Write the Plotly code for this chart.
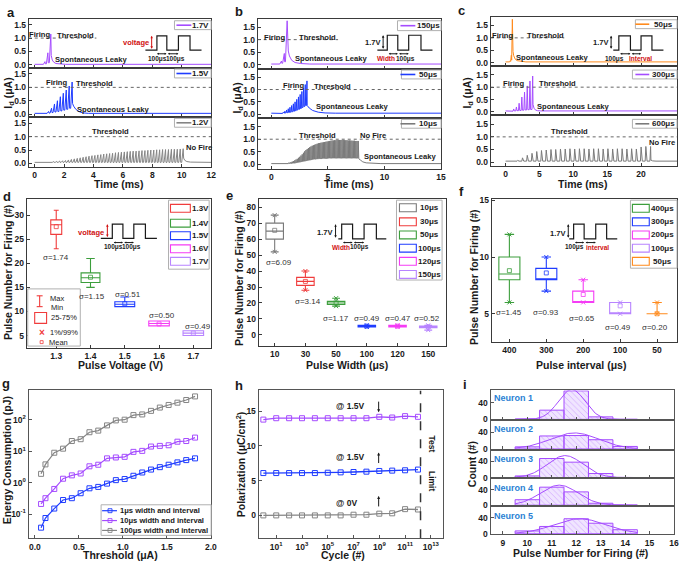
import numpy as np
import plotly.graph_objects as go

W, H = 685, 564
FONT = "Liberation Sans, Arial, Helvetica, sans-serif"

PURPLE = "#a54cff"
BLUE = "#1f3cff"
GRAY = "#858585"
ORANGE = "#ff8a1c"
RED = "#f03c3c"
GREEN = "#3c9e3c"
MAGENTA = "#f53cf5"
LAVENDER = "#b884ff"
DGRAY = "#7a7a7a"
NEURON_BLUE = "#2a7fd4"
INK = "#1a1a1a"
FRAME = "#3a3a3a"

# ======================= DATA =======================
# (a) pulse voltage series, 100us width / 100us interval (ms)
a_period, a_width = 0.2, 0.1
a17_start = 0.6
a17_peaks = [0.12, 0.45, 1.15]
a17_troughs = [0.02, 0.04, 0.08]
a17_decay_dt = [0.03, 0.1, 0.2, 0.35, 0.6, 1.0]
a17_decay_i = [0.35, 0.18, 0.1, 0.05, 0.03, 0.02]

a15_start = 0.85
a15_peaks = [0.1, 0.22, 0.38, 0.5, 0.65, 0.78, 0.9, 1.05, 1.2]
a15_troughs = [0.03, 0.04, 0.06, 0.08, 0.1, 0.12, 0.15, 0.18, 0.22]
a15_decay_dt = [0.03, 0.1, 0.25, 0.45, 0.7, 1.1]
a15_decay_i = [0.4, 0.3, 0.18, 0.1, 0.05, 0.03]

a12_start = 0.2
a12_peaks = [0.04, 0.04, 0.05, 0.05, 0.06, 0.07, 0.08, 0.09, 0.10, 0.11,
             0.13, 0.15, 0.17, 0.19, 0.21, 0.23, 0.25, 0.27, 0.29, 0.30,
             0.32, 0.33, 0.35, 0.36, 0.37, 0.38, 0.40, 0.41, 0.42, 0.43,
             0.44, 0.45, 0.46, 0.46, 0.47, 0.48, 0.48, 0.49, 0.50, 0.50,
             0.51, 0.51, 0.52, 0.52, 0.52, 0.53, 0.53, 0.53, 0.54, 0.55]
a12_trough = 0.04
a12_decay_dt = [0.03, 0.1, 0.25, 0.5, 0.9]
a12_decay_i = [0.2, 0.12, 0.07, 0.05, 0.04]

# (b) pulse width series, 1.7V, 100us interval
b150_start, b150_period, b150_width = 0.75, 0.25, 0.15
b150_peaks = [0.15, 0.45, 1.75]
b150_troughs = [0.03, 0.06, 0.12]
b150_decay_dt = [0.03, 0.1, 0.2, 0.4, 0.7, 1.2, 2.0]
b150_decay_i = [0.9, 0.55, 0.35, 0.18, 0.09, 0.05, 0.03]

b50_start, b50_period, b50_width = 1.0, 0.15, 0.05
b50_peaks = [0.08, 0.12, 0.17, 0.22, 0.28, 0.35, 0.42, 0.5, 0.6, 0.7,
             0.8, 0.92, 1.05, 1.2, 1.35]
b50_troughs = [0.03, 0.04, 0.05, 0.06, 0.07, 0.08, 0.1, 0.12, 0.14, 0.17,
               0.2, 0.23, 0.27, 0.31, 0.35]
b50_decay_dt = [0.02, 0.2, 0.5, 1.0, 1.6, 2.5]
b50_decay_i = [0.35, 0.25, 0.15, 0.08, 0.05, 0.04]

b10_start, b10_period, b10_width = 1.4, 0.11, 0.01
b10_peaks = [0.05, 0.06, 0.07, 0.09, 0.11, 0.13, 0.16, 0.19, 0.22, 0.26,
             0.30, 0.35, 0.40, 0.46, 0.52, 0.57, 0.61, 0.65, 0.68, 0.71,
             0.74, 0.76, 0.78, 0.80, 0.82, 0.84, 0.85, 0.86, 0.87, 0.88,
             0.89, 0.90, 0.91, 0.92, 0.93, 0.94, 0.95, 0.95, 0.96, 0.96,
             0.97, 0.97, 0.97, 0.97, 0.97, 0.97, 0.96, 0.96, 0.96, 0.95,
             0.95, 0.95, 0.94, 0.94, 0.94, 0.93, 0.93, 0.93]
b10_troughs = [0.03, 0.03, 0.03, 0.04, 0.04, 0.05, 0.05, 0.06, 0.07, 0.08,
               0.09, 0.10, 0.11, 0.12, 0.13, 0.14, 0.15, 0.16, 0.17, 0.18,
               0.19, 0.20, 0.21, 0.21, 0.22, 0.22, 0.23, 0.23, 0.23, 0.24,
               0.24, 0.24, 0.24, 0.24, 0.25, 0.25, 0.25, 0.25, 0.25, 0.25,
               0.25, 0.25, 0.25, 0.25, 0.25, 0.25, 0.25, 0.25, 0.25, 0.25,
               0.25, 0.25, 0.25, 0.25, 0.25, 0.25, 0.25, 0.25]
b10_decay_dt = [0.05, 0.2, 0.4, 0.7, 1.2, 2.0]
b10_decay_i = [0.22, 0.17, 0.1, 0.06, 0.04, 0.03]

# (c) pulse interval series, 1.7V, 100us width
c50_start, c50_period, c50_width = 0.6, 0.15, 0.1
c50_peaks = [0.08, 0.3, 1.75]
c50_troughs = [0.03, 0.05, 0.1]
c50_decay_dt = [0.03, 0.1, 0.2, 0.4, 0.7, 1.2, 2.0]
c50_decay_i = [0.8, 0.45, 0.28, 0.15, 0.08, 0.05, 0.03]

c300_start, c300_period, c300_width = 1.1, 0.4, 0.1
c300_peaks = [0.12, 0.2, 0.35, 0.6, 0.8, 1.05, 1.25, 1.45]
c300_troughs = [0.03, 0.04, 0.05, 0.06, 0.07, 0.08, 0.09, 0.1]
c300_decay_dt = [0.05, 0.2, 0.4, 0.7, 1.2]
c300_decay_i = [0.3, 0.15, 0.08, 0.05, 0.04]

c600_start, c600_period, c600_width = 1.7, 0.7, 0.1
c600_peaks = [0.07, 0.17, 0.27, 0.35, 0.42, 0.46, 0.48, 0.50, 0.50, 0.52,
              0.52, 0.53, 0.52, 0.53, 0.53, 0.52, 0.53, 0.53, 0.52, 0.53,
              0.52, 0.53, 0.53, 0.52, 0.53, 0.52, 0.60, 0.62, 0.62]
c600_trough = 0.04
c600_decay_dt = [0.05, 0.3, 0.8]
c600_decay_i = [0.08, 0.05, 0.04]

# (d) pulse number vs pulse voltage
d_voltage = [1.3, 1.4, 1.5, 1.6, 1.7]
d_min = [23, 15, 11, 7, 5]
d_q1 = [26, 16, 11, 7, 5]
d_median = [28, 17, 11.5, 7.5, 5.5]
d_q3 = [29, 18, 12, 8, 6]
d_max = [31, 21, 13, 8, 6]
d_mean = [27.6, 17.1, 11.6, 7.4, 5.5]
d_sigma = ["1.74", "1.15", "0.51", "0.50", "0.49"]
d_labels = ["1.3V", "1.4V", "1.5V", "1.6V", "1.7V"]

# (e) pulse number vs pulse width
e_width = ["10", "30", "50", "100", "120", "150"]
e_min = [52, 28, 18, 5, 5, 3]
e_q1 = [60, 31, 19, 5, 5, 4.5]
e_median = [65, 33.5, 20, 5.5, 5.5, 5]
e_q3 = [70, 36, 21, 6, 6, 5.5]
e_max = [75, 40, 23, 6, 6, 6]
e_mean = [65.5, 33.5, 20, 5.5, 5.5, 5]
e_sigma = ["6.09", "3.14", "1.17", "0.49", "0.47", "0.52"]

# (f) pulse number vs pulse interval
f_interval = ["400", "300", "200", "100", "50"]
f_min = [6, 7, 6, 5, 5]
f_q1 = [8, 8, 6, 5, 5]
f_median = [8.5, 8, 6, 5, 5]
f_q3 = [10, 9, 7, 6, 5]
f_max = [12, 10, 8, 6, 6]
f_mean = [8.8, 8.6, 6.7, 5.7, 5.0]
f_sigma = ["1.45", "0.93", "0.65", "0.49", "0.20"]

# (g) energy consumption vs threshold
g_threshold = [0.07, 0.12, 0.22, 0.32, 0.42, 0.52, 0.62, 0.72, 0.82, 0.92,
               1.02, 1.12, 1.22, 1.32, 1.42, 1.52, 1.62, 1.72, 1.82]
g_1us = [0.037, 0.075, 0.15, 0.28, 0.32, 0.46, 0.66, 0.73, 0.93, 1.2,
         1.3, 1.65, 2.1, 2.6, 3.1, 3.7, 4.4, 5.2, 5.9]
g_10us = [0.21, 0.32, 0.63, 1.33, 1.7, 1.95, 3.3, 3.7, 5.9, 6.3,
          6.6, 9.5, 10.2, 14, 14.7, 15.4, 20, 21, 27]
g_100us = [1.9, 3.8, 8.9, 12, 21, 24, 40, 45, 66, 95,
           100, 140, 147, 191, 243, 294, 348, 422, 550]

# (h) polarization vs cycles
h_cycle = [1e0, 1e1, 1e2, 1e3, 1e4, 1e5, 1e6, 1e7, 1e8, 1e9, 1e10, 1e11, 1e12]
h_top = [13.8, 14.0, 14.0, 14.0, 14.0, 14.0, 14.0, 14.0, 14.0, 14.2, 14.1, 14.3, 14.2]
h_mid = [6.1, 6.1, 6.1, 6.1, 6.1, 6.15, 6.2, 6.25, 6.3, 6.4, 6.45, 6.5, 6.6]
h_zero = [0, 0, 0, 0, 0, 0, 0, 0.1, 0.1, 0.25, 0.3, 0.9, 0.85]
h_test_limit = 10 ** 12.2

# (i) histograms of pulse number for firing
i_bins = [10, 11, 12, 13, 14]
i_counts = [
    [1, 22, 68, 6, 0],
    [5, 31, 32, 22, 6],
    [4, 47, 38, 10, 0],
    [14, 46, 34, 5, 0],
    [7, 18, 37, 26, 10],
]

# ======================= HELPERS =======================
fig = go.Figure()
layout = dict(width=W, height=H, margin=dict(l=0, r=0, t=0, b=0),
              paper_bgcolor="white", plot_bgcolor="white", showlegend=False,
              hovermode=False, font=dict(family=FONT, color=INK))
shapes, annotations = [], []
n_axes = [0]


def add_axes(xpx, ypx, xr, yr, xtype="linear", ytype="linear", xlabels=True,
             xtv=None, xtt=None, ytv=None, ytt=None, frame=FRAME, lw=1):
    n_axes[0] += 1
    k = n_axes[0]
    s = "" if k == 1 else str(k)
    base = dict(showline=True, mirror=True, linecolor=frame, linewidth=lw,
                ticks="inside", ticklen=3, tickcolor=frame, showgrid=False,
                zeroline=False, fixedrange=True,
                tickfont=dict(family=FONT, size=8.5, color=INK, weight="bold"))
    xa = dict(base, domain=[xpx[0] / W, xpx[1] / W], range=xr, type=xtype,
              anchor="y" + s, showticklabels=xlabels)
    ya = dict(base, domain=[1 - ypx[1] / H, 1 - ypx[0] / H], range=yr,
              type=ytype, anchor="x" + s)
    if xtv is not None:
        xa.update(tickmode="array", tickvals=xtv)
        if xtt is not None:
            xa["ticktext"] = xtt
    if ytv is not None:
        ya.update(tickmode="array", tickvals=ytv)
        if ytt is not None:
            ya["ticktext"] = ytt
    layout["xaxis" + s] = xa
    layout["yaxis" + s] = ya
    return "x" + s, "y" + s


def spike_wave(start, period, width, peaks, troughs, base, decay_dt, decay_i, t_end):
    t, y = [0.0], [base]
    n = len(peaks)
    for k in range(n):
        s = start + k * period
        t += [s, s + width]
        y += [troughs[k], peaks[k]]
        if k < n - 1:
            t.append(s + width + 0.3 * (period - width))
            y.append(troughs[k + 1])
    end = start + (n - 1) * period + width
    t += [end + d for d in decay_dt]
    y += list(decay_i)
    t.append(t_end)
    y.append(decay_i[-1])
    return t, y


def text_px(x, y, s, size=8.5, color=INK, anchor="center", angle=0, bold=True):
    annotations.append(dict(x=x / W, y=1 - y / H, xref="paper", yref="paper", text=s,
                            showarrow=False, xanchor=anchor, yanchor="middle",
                            textangle=angle, borderpad=0,
                            font=dict(family=FONT, size=size, color=color,
                                      weight="bold" if bold else "normal")))


def text_data(xa, ya, x, y, s, size=7.6, color=INK, bold=True, anchor="center"):
    annotations.append(dict(x=x, y=y, xref=xa, yref=ya, text=s, showarrow=False,
                            xanchor=anchor, yanchor="middle", borderpad=0,
                            font=dict(family=FONT, size=size, color=color,
                                      weight="bold" if bold else "normal")))


def arrow_px(x0, y0, x1, y1, color=INK, side="end+start", size=0.5):
    annotations.append(dict(x=x1 / W, y=1 - y1 / H, xref="paper", yref="paper",
                            ax=x0 - x1, ay=y0 - y1, axref="pixel", ayref="pixel",
                            text="", showarrow=True, arrowhead=2, arrowsize=size,
                            arrowwidth=1, arrowcolor=color, arrowside=side))


def rect_px(x0, y0, x1, y1, color, width=1, fill="rgba(0,0,0,0)"):
    shapes.append(dict(type="rect", xref="paper", yref="paper", x0=x0 / W, x1=x1 / W,
                       y0=1 - y1 / H, y1=1 - y0 / H, line=dict(color=color, width=width),
                       fillcolor=fill, layer="above"))


def line_px(x0, y0, x1, y1, color, width=1):
    shapes.append(dict(type="line", xref="paper", yref="paper", x0=x0 / W, x1=x1 / W,
                       y0=1 - y0 / H, y1=1 - y1 / H, line=dict(color=color, width=width),
                       layer="above"))


def path_px(points, color=INK, width=1.2):
    d = "M " + " L ".join(f"{x / W:.5f},{1 - y / H:.5f}" for x, y in points)
    shapes.append(dict(type="path", xref="paper", yref="paper", path=d,
                       line=dict(color=color, width=width), layer="above"))


def pulse_inset(xs, ylow, yhigh):
    pts = [(xs[0], ylow)]
    levels = [ylow, yhigh, ylow, yhigh, ylow]
    for i in range(1, len(xs) - 1):
        pts.append((xs[i], levels[i - 1]))
        pts.append((xs[i], levels[i]))
    pts.append((xs[-1], ylow))
    path_px(pts)


def legend_line(x0, y0, x1, y1, color, label, lx0, lx1, tx):
    yc = (y0 + y1) / 2
    rect_px(x0, y0, x1, y1, "#b0b0b0", 1, "white")
    line_px(lx0, yc, lx1, yc, color, 1.6)
    text_px(tx, yc, label, size=8)


YT = [0, 0.5, 1.0, 1.5]
YTT = ["0.0", "0.5", "1.0", "1.5"]

# ======================= PANELS a-c =======================
panel_specs = [
    dict(xpx=(29, 213), ys=[(15, 65), (65, 115), (115, 165)], xr=[-0.4, 12], yr=[-0.12, 1.72],
         xt=[0, 2, 4, 6, 8, 10, 12], t_end=12,
         waves=[(a17_start, a_period, a_width, a17_peaks, a17_troughs, 0.02, a17_decay_dt, a17_decay_i),
                (a15_start, a_period, a_width, a15_peaks, a15_troughs, 0.03, a15_decay_dt, a15_decay_i),
                (a12_start, a_period, a_width, a12_peaks, [a12_trough] * len(a12_peaks), 0.04, a12_decay_dt, a12_decay_i)],
         colors=[PURPLE, BLUE, GRAY], labels=["1.7V", "1.5V", "1.2V"],
         texts=[[(0.35, 1.12, "Firing"), (2.8, 1.1, "Threshold"), (3.85, 0.19, "Spontaneous Leaky")],
                [(1.5, 1.17, "Firing"), (4.1, 1.15, "Threshold"), (5.35, 0.19, "Spontaneous Leaky")],
                [(5.15, 1.2, "Threshold"), (11.15, 0.61, "No Fire")]],
         stop=4.2,
         leg=[(176, 17, 213, 26), (176, 66, 213, 75), (176, 116, 213, 125)], legl=(178, 193, 202)),
    dict(xpx=(260, 445), ys=[(15, 66), (66, 116), (116, 167)], xr=[-1.2, 15], yr=[-0.17, 1.83],
         xt=[0, 5, 10, 15], t_end=15,
         waves=[(b150_start, b150_period, b150_width, b150_peaks, b150_troughs, 0.03, b150_decay_dt, b150_decay_i),
                (b50_start, b50_period, b50_width, b50_peaks, b50_troughs, 0.04, b50_decay_dt, b50_decay_i),
                (b10_start, b10_period, b10_width, b10_peaks, b10_troughs, 0.03, b10_decay_dt, b10_decay_i)],
         colors=[PURPLE, BLUE, "#7a7a7a"], labels=["150μs", "50μs", "10μs"],
         texts=[[(0.3, 1.1, "Firing"), (4.1, 1.1, "Threshold"), (5.3, 0.26, "Spontaneous Leaky")],
                [(1.95, 1.18, "Firing"), (5.4, 1.13, "Threshold"), (7.2, 0.3, "Spontaneous Leaky")],
                [(4.1, 1.15, "Threshold"), (9.0, 1.15, "No Fire"), (11.4, 0.32, "Spontaneous Leaky")]],
         stop=5.9,
         leg=[(401, 17, 445, 27), (405, 67, 445, 76), (405, 117, 445, 126)], legl=(404, 419, 432)),
    dict(xpx=(495, 683), ys=[(13, 63), (63, 113), (113, 164)], xr=[-2.2, 25.3], yr=[-0.14, 1.85],
         xt=[0, 5, 10, 15, 20], t_end=25.3,
         waves=[(c50_start, c50_period, c50_width, c50_peaks, c50_troughs, 0.03, c50_decay_dt, c50_decay_i),
                (c300_start, c300_period, c300_width, c300_peaks, c300_troughs, 0.04, c300_decay_dt, c300_decay_i),
                (c600_start, c600_period, c600_width, c600_peaks, [c600_trough] * len(c600_peaks), 0.04, c600_decay_dt, c600_decay_i)],
         colors=[ORANGE, PURPLE, "#7a7a7a"], labels=["50μs", "300μs", "600μs"],
         texts=[[(-0.47, 1.11, "Firing"), (5.9, 1.11, "Threshold"), (6.97, 0.2, "Spontaneous Leaky")],
                [(1.15, 1.14, "Firing"), (7.6, 1.14, "Threshold"), (10.0, 0.22, "Spontaneous Leaky")],
                [(9.4, 1.21, "Threshold"), (23.1, 0.78, "No Fire")]],
         stop=8.66,
         leg=[(641, 16, 683, 25), (638, 67, 683, 76), (638, 117, 683, 126)], legl=(641, 655, 669)),
]

for spec in panel_specs:
    for j in range(3):
        xa, ya = add_axes(spec["xpx"], spec["ys"][j], spec["xr"], spec["yr"],
                          xlabels=(j == 2), xtv=spec["xt"], ytv=YT, ytt=YTT)
        st, per, wid, pk, tr, base, ddt, dvi = spec["waves"][j]
        t, y = spike_wave(st, per, wid, pk, tr, base, ddt, dvi, spec["t_end"])
        fig.add_trace(go.Scatter(x=t, y=y, mode="lines", xaxis=xa, yaxis=ya,
                                 line=dict(color=spec["colors"][j], width=1)))
        x_stop = spec["stop"] if j == 0 else spec["xr"][1]
        shapes.append(dict(type="line", xref=xa, yref=ya, x0=spec["xr"][0], x1=x_stop,
                           y0=1.0, y1=1.0, line=dict(color="#666", width=1, dash="dot")))
        for (tx, ty, s) in spec["texts"][j]:
            text_data(xa, ya, tx, ty, s)
        lx0, ly0, lx1, ly1 = spec["leg"][j]
        a0, a1, atx = spec["legl"]
        legend_line(lx0, ly0, lx1, ly1, spec["colors"][j], spec["labels"][j], a0, a1, atx)

# insets a-c
pulse_inset([146.7, 158.3, 168.3, 180, 191.7, 203.3], 46.7, 32.3)
arrow_px(153, 46.7, 153, 32.3, "#d01010")
text_px(151, 39, "voltage", size=7.5, color="#d01010", anchor="right")
arrow_px(157, 50.5, 168, 50.5, INK, size=0.4)
arrow_px(168, 50.5, 180, 50.5, INK, size=0.4)
text_px(159, 56, "100μs", size=6.5)
text_px(177, 56, "100μs", size=6.5)

pulse_inset([380.7, 390.7, 401.3, 412.3, 424.7, 436.3], 46.7, 31.7)
arrow_px(386.5, 46.7, 386.5, 31.7, INK)
text_px(384, 39.3, "1.7V", size=7.5, anchor="right")
arrow_px(390.7, 50.5, 401.3, 50.5, INK, size=0.4)
arrow_px(401.3, 50.5, 412.3, 50.5, INK, size=0.4)
text_px(389, 55.5, "Width", size=6.5, color="#d01010")
text_px(409.5, 55.5, "100μs", size=6.5)

pulse_inset([618.7, 624.3, 636, 646.7, 657.7, 669.3], 46.7, 32.3)
arrow_px(616.5, 46.7, 616.5, 32.3, INK)
text_px(614, 39.3, "1.7V", size=7.5, anchor="right")
arrow_px(624.3, 50.5, 636, 50.5, INK, size=0.4)
arrow_px(636, 50.5, 646.7, 50.5, INK, size=0.4)
text_px(620, 55.5, "100μs", size=6.5)
text_px(646, 55.5, "Interval", size=6.5, color="#d01010")

# axis titles a-c
for xt_x in (120, 352, 588):
    text_px(xt_x, 183, "Time (ms)", size=10.5)
text_px(9, 90, "I<sub>d</sub> (μA)", size=10.5, angle=-90)
text_px(240, 95, "I<sub>d</sub> (μA)", size=10.5, angle=-90)
text_px(472, 90, "I<sub>d</sub> (μA)", size=10.5, angle=-90)


# ======================= PANELS d-f =======================
def add_boxes(xa, ya, pos, lo, q1, med, q3, hi, mean, colors, widths, xmarks):
    for i in range(len(pos)):
        c = colors[i]
        fig.add_trace(go.Box(x=[pos[i]], q1=[q1[i]], median=[med[i]], q3=[q3[i]],
                             lowerfence=[lo[i]], upperfence=[hi[i]], width=widths[i],
                             whiskerwidth=0.45, line=dict(color=c, width=1.1),
                             fillcolor="rgba(255,255,255,0)", boxpoints=False,
                             xaxis=xa, yaxis=ya))
        fig.add_trace(go.Scatter(x=[pos[i]], y=[mean[i]], mode="markers", xaxis=xa, yaxis=ya,
                                 marker=dict(symbol="square-open", size=4, color=c,
                                             line=dict(width=0.8, color=c))))
        if xmarks:
            fig.add_trace(go.Scatter(x=[pos[i], pos[i]], y=[lo[i], hi[i]], mode="markers",
                                     xaxis=xa, yaxis=ya,
                                     marker=dict(symbol="x-thin", size=4, color=c,
                                                 line=dict(width=1, color=c))))


# d
xa, ya = add_axes((27, 213), (198, 349), [1.214, 1.752], [2.4, 33.3],
                  xtv=d_voltage, xtt=["1.3", "1.4", "1.5", "1.6", "1.7"],
                  ytv=[5, 10, 15, 20, 25, 30])
d_colors = [RED, GREEN, BLUE, MAGENTA, LAVENDER]
add_boxes(xa, ya, d_voltage, d_min, d_q1, d_median, d_q3, d_max, d_mean, d_colors,
          [0.032, 0.055, 0.058, 0.06, 0.06], False)
d_sig_pos = [(1.3, 21.2), (1.405, 13.2), (1.51, 13.6), (1.61, 9.2), (1.715, 6.8)]
for (sx, sy), s in zip(d_sig_pos, d_sigma):
    text_data(xa, ya, sx, sy, "σ=" + s, size=8, color="#333", bold=False)
rect_px(170, 199, 211, 269, "#b0b0b0", 1, "white")
for k, yy in enumerate([207.3, 222.3, 235, 248.3, 261]):
    rect_px(172, yy - 4, 192, yy + 4, d_colors[k], 1.1)
    text_px(202, yy, d_labels[k], size=8)
rect_px(28, 289, 81, 347, "#b0b0b0", 1, "white")
line_px(40, 296, 40, 307, RED, 1.1)
line_px(37, 296, 43, 296, RED, 1.1)
line_px(37, 307, 43, 307, RED, 1.1)
text_px(58, 298.5, "Max", size=7.5, bold=False)
text_px(58, 307.5, "Min", size=7.5, bold=False)
rect_px(35, 313, 47, 324, RED, 1.1)
text_px(65, 318.5, "25-75%", size=7.5, bold=False)
text_px(42, 333, "×", size=10, color=RED)
text_px(64.5, 333, "1%/99%", size=7.5, bold=False)
rect_px(40.5, 341.5, 43.5, 344.5, RED, 0.8)
text_px(59.5, 343, "Mean", size=7.5, bold=False)
pulse_inset([101.7, 113.3, 124, 135, 146.7, 158.3], 237.7, 223.3)
arrow_px(108.3, 237.7, 108.3, 223.3, "#d01010")
text_px(106, 231.3, "voltage", size=7.5, color="#d01010", anchor="right")
arrow_px(113.3, 242, 124, 242, INK, size=0.4)
arrow_px(124, 242, 135, 242, INK, size=0.4)
text_px(114, 247, "100μs", size=6.5)
text_px(133, 247, "100μs", size=6.5)
text_px(8, 272, "Pulse Number for Firing (#)", size=10.5, angle=-90)
text_px(122, 366, "Pulse Voltage (V)", size=10.5)

# e
e_pos = list(range(len(e_width)))
xa, ya = add_axes((261, 450), (198, 347), [-0.52, 5.58], [-7, 85],
                  xtv=e_pos, xtt=e_width, ytv=list(range(0, 90, 10)))
e_colors = [DGRAY, RED, GREEN, BLUE, MAGENTA, LAVENDER]
add_boxes(xa, ya, e_pos, e_min, e_q1, e_median, e_q3, e_max, e_mean, e_colors,
          [0.57] * 6, True)
e_sig_pos = [(0.15, 45.4), (1.1, 20.9), (2.0, 10.1), (3.0, 10.1), (4.0, 10.1), (4.95, 10.1)]
for (sx, sy), s in zip(e_sig_pos, e_sigma):
    text_data(xa, ya, sx, sy, "σ=" + s, size=8, color="#333", bold=False)
rect_px(400, 199, 446, 280, "#b0b0b0", 1, "white")
for k, yy in enumerate([206.7, 221, 234.3, 247.7, 261, 274.3]):
    rect_px(403, yy - 4, 420, yy + 4, e_colors[k], 1.1)
    text_px(433, yy, e_width[k] + "μs", size=8)
pulse_inset([341.3, 344.7, 355.7, 367.3, 379.7, 389.7], 238.3, 223.3)
arrow_px(338.5, 238.3, 338.5, 223.3, INK)
text_px(336, 231.7, "1.7V", size=7.5, anchor="right")
arrow_px(344.7, 242, 355.7, 242, INK, size=0.4)
arrow_px(355.7, 242, 367.3, 242, INK, size=0.4)
text_px(344, 247, "Width", size=6.5, color="#d01010")
text_px(363, 247, "100μs", size=6.5)
text_px(241, 278, "Pulse Number for Firing (#)", size=10.5, angle=-90)
text_px(350, 366, "Pulse Width (μs)", size=10.5)

# f
f_pos = list(range(len(f_interval)))
xa, ya = add_axes((496, 683), (198, 343), [-0.48, 4.54], [2.5, 15.1],
                  xtv=f_pos, xtt=f_interval, ytv=[5, 10, 15])
f_colors = [GREEN, BLUE, MAGENTA, LAVENDER, ORANGE]
add_boxes(xa, ya, f_pos, f_min, f_q1, f_median, f_q3, f_max, f_mean, f_colors,
          [0.57] * 5, True)
f_sig_pos = [(0.0, 5.1), (0.98, 5.1), (1.97, 4.56), (2.95, 3.8), (3.95, 3.8)]
for (sx, sy), s in zip(f_sig_pos, f_sigma):
    text_data(xa, ya, sx, sy, "σ=" + s, size=8, color="#333", bold=False)
rect_px(636, 199, 683, 268, "#b0b0b0", 1, "white")
for k, yy in enumerate([207.3, 221, 234.3, 247.7, 261]):
    rect_px(638, yy - 4, 655, yy + 4, f_colors[k], 1.1)
    text_px(668.5, yy, f_interval[k] + "μs", size=8)
pulse_inset([574.3, 578.7, 589.3, 601, 612, 622.7], 238.3, 223.3)
arrow_px(573.3, 238.3, 573.3, 223.3, INK)
text_px(571, 232.7, "1.7V", size=7.5, anchor="right")
arrow_px(578.7, 242, 589.3, 242, INK, size=0.4)
arrow_px(589.3, 242, 601, 242, INK, size=0.4)
text_px(579.3, 247, "100μs", size=6.5)
text_px(602.7, 247, "interval", size=6.5, color="#d01010")
text_px(478, 277, "Pulse Number for Firing (#)", size=10.5, angle=-90)
text_px(586, 366, "Pulse interval (μs)", size=10.5)

# ======================= PANEL g =======================
xa, ya = add_axes((29, 213), (392, 542), [-0.07, 2.003], [-1.77, 2.93], ytype="log",
                  xtv=[0, 0.5, 1.0, 1.5, 2.0], xtt=["0.0", "0.5", "1.0", "1.5", "2.0"],
                  ytv=[0.1, 1, 10, 100],
                  ytt=["10<sup>-1</sup>", "10<sup>0</sup>", "10<sup>1</sup>", "10<sup>2</sup>"],
                  frame="#555", lw=1.3)
g_series = [(g_1us, BLUE, "1μs width and interval"),
            (g_10us, PURPLE, "10μs width and interval"),
            (g_100us, GRAY, "100μs width and interval")]
for vals, c, name in g_series:
    fig.add_trace(go.Scatter(x=g_threshold, y=vals, mode="lines+markers", xaxis=xa, yaxis=ya,
                             line=dict(color=c, width=1.2),
                             marker=dict(symbol="square-open", size=5, color=c,
                                         line=dict(width=1, color=c))))
rect_px(102, 508, 213, 539, "#b0b0b0", 1, "white")
for (vals, c, name), yy in zip(g_series, [514, 524, 534]):
    line_px(103, yy, 118, yy, c, 1.2)
    rect_px(109, yy - 2, 113, yy + 2, c, 0.9)
    text_px(120.5, yy, name, size=7.6, anchor="left")
text_px(7, 463, "Energy Consumption (pJ)", size=10.5, angle=-90)
text_px(122, 559, "Threshold (μA)", size=10.5)

# ======================= PANEL h =======================
h_exp = [1, 3, 5, 7, 9, 11, 13]
xa, ya = add_axes((261, 447), (392, 542), [-0.36, 13.95], [-3.3, 18], xtype="log",
                  xtv=[10 ** e for e in h_exp], xtt=["10<sup>%d</sup>" % e for e in h_exp],
                  ytv=[0, 5, 10, 15], frame="#555", lw=1.3)
for vals, c in [(h_top, PURPLE), (h_mid, BLUE), (h_zero, GRAY)]:
    fig.add_trace(go.Scatter(x=h_cycle, y=vals, mode="lines+markers", xaxis=xa, yaxis=ya,
                             line=dict(color=c, width=1.3),
                             marker=dict(symbol="square-open", size=5, color=c,
                                         line=dict(width=1, color=c))))
fig.add_trace(go.Scatter(x=[h_test_limit, h_test_limit], y=[-3.3, 18], mode="lines",
                         xaxis=xa, yaxis=ya, line=dict(color="#333", width=1.5, dash="dash")))
text_px(353, 408, "@ 1.5V", size=8.5)
text_px(353, 460, "@ 1.5V", size=8.5)
text_px(350, 506, "@ 0V", size=8.5)
arrow_px(382, 402, 382, 414, INK, side="end", size=0.6)
arrow_px(382, 467, 382, 455, INK, side="end", size=0.6)
arrow_px(382, 511, 382, 499, INK, side="end", size=0.6)
text_px(436, 446, "Test", size=8.5, angle=90)
text_px(436, 484, "Limit", size=8.5, angle=90)
text_px(242, 467, "Polarization (μC/cm<sup>2</sup>)", size=10.5, angle=-90)
text_px(346, 559, "Cycle (#)", size=10.5)

# ======================= PANEL i =======================
i_ys = [(392, 422), (422, 452), (452, 481), (481, 509), (509, 538)]
fine = np.linspace(9.5, 14.5, 160)
for k, counts in enumerate(i_counts):
    xa, ya = add_axes((495, 680), i_ys[k], [8.5, 16], [-1.5, 69], xlabels=(k == 4),
                      xtv=list(range(9, 17)), ytv=[0, 40], frame="#555", lw=1.3)
    fig.add_trace(go.Bar(x=i_bins, y=counts, width=1, xaxis=xa, yaxis=ya,
                         marker=dict(color="rgba(205,170,255,0.3)",
                                     line=dict(color=PURPLE, width=1),
                                     pattern=dict(shape="\\", fgcolor=PURPLE, size=4,
                                                  solidity=0.15))))
    cnt = np.array(counts, float)
    bins = np.array(i_bins, float)
    n_tot = cnt.sum()
    mu = (cnt * bins).sum() / n_tot
    sd = np.sqrt((cnt * (bins - mu) ** 2).sum() / n_tot)
    fit = n_tot / (sd * np.sqrt(2 * np.pi)) * np.exp(-0.5 * ((fine - mu) / sd) ** 2)
    fig.add_trace(go.Scatter(x=fine, y=fit, mode="lines", xaxis=xa, yaxis=ya,
                             line=dict(color=PURPLE, width=1)))
for k, yy in enumerate([400, 431, 461.7, 490.7, 519.3]):
    text_px(497, yy, "Neuron %d" % (k + 1), size=9, color=NEURON_BLUE, anchor="left")
text_px(477, 467, "Count (#)", size=10.5, angle=-90)
text_px(586, 557, "Pulse Number for Firing (#)", size=10.5)

# ======================= panel letters =======================
for s, x, y in [("a", 11, 9), ("b", 241, 8), ("c", 466, 7), ("d", 7, 195), ("e", 232, 194),
                ("f", 466, 190), ("g", 6, 385), ("h", 241, 387), ("i", 469, 386)]:
    text_px(x, y, s, size=13)

layout["shapes"] = shapes
layout["annotations"] = annotations
layout["barmode"] = "overlay"
fig.update_layout(**layout)
fig.write_html("out.html", config={"displayModeBar": False},
               post_script="document.body.style.margin='0px';document.body.style.overflow='hidden';")
